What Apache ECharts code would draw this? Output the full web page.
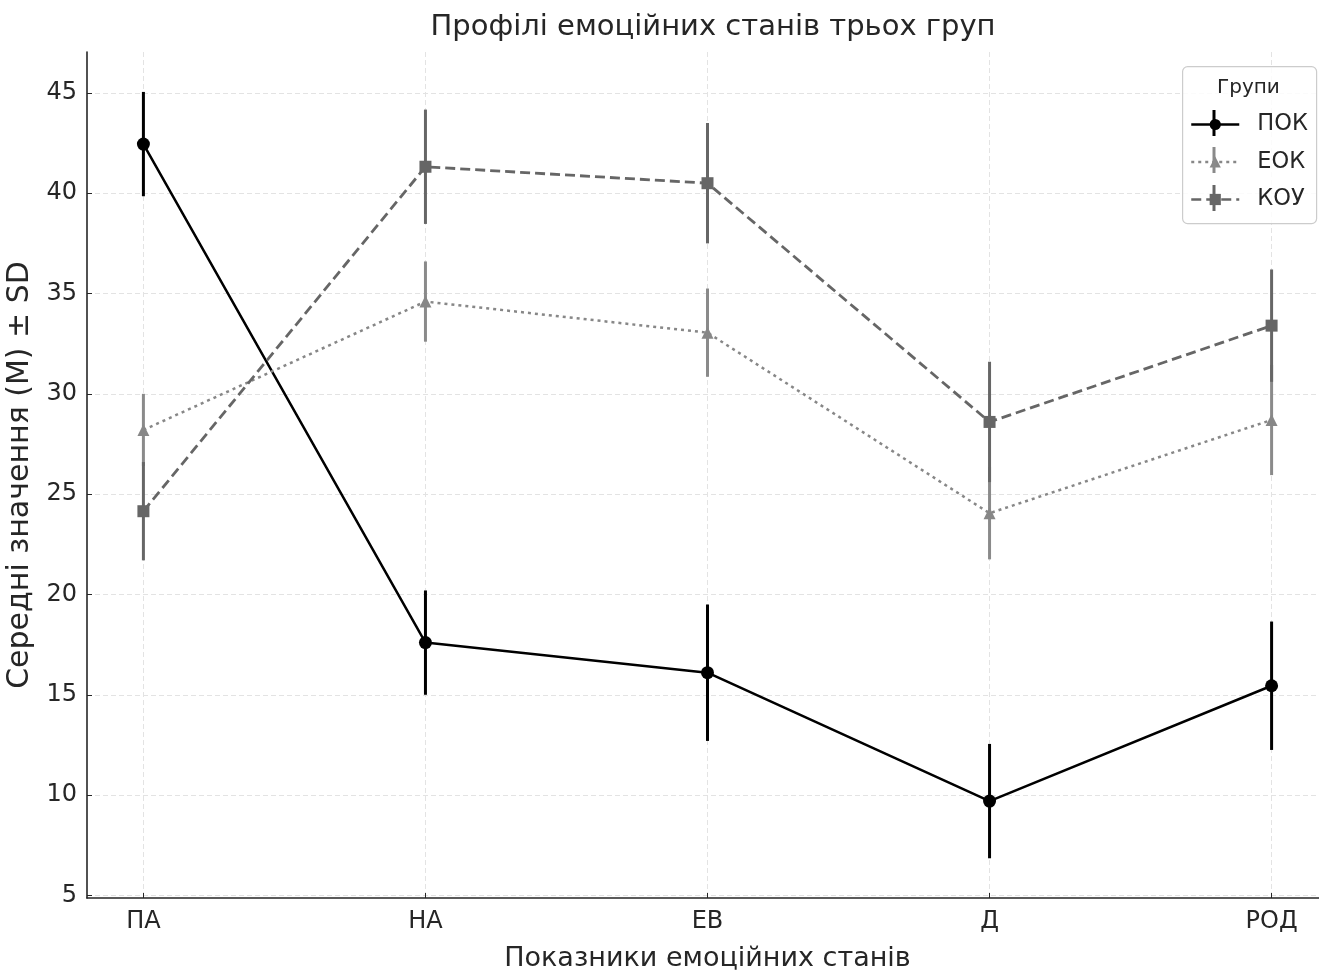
<!DOCTYPE html>
<html>
<head>
<meta charset="utf-8">
<script src="https://cdn.jsdelivr.net/npm/echarts@6/dist/echarts.min.js"></script>
<style>
html,body{margin:0;padding:0;background:#fff;}
#chart{width:1319px;height:971px;}
</style>
</head>
<body>
<div id="chart"></div>
<script>
const categories = ['ПА', 'НА', 'ЕВ', 'Д', 'РОД'];
const groupNames = ['ПОК', 'ЕОК', 'КОУ'];
const pokMean = [42.45, 17.6, 16.1, 9.7, 15.45];
const pokSD   = [2.6, 2.6, 3.4, 2.85, 3.2];
const eokMean = [28.2, 34.6, 33.05, 24.05, 28.7];
const eokSD   = [1.8, 2.0, 2.2, 2.3, 2.75];
const kouMean = [24.15, 41.32, 40.5, 28.6, 33.4];
const kouSD   = [2.45, 2.85, 3.0, 3.0, 2.8];
const yTicks = [5, 10, 15, 20, 25, 30, 35, 40, 45];

const FONT = 'DejaVu Sans';
const TXT = '#262626';
const groups = [
  {name: groupNames[0], mean: pokMean, sd: pokSD, color: '#000000', bar: '#000000', symbol: 'circle', size: 13, lineType: 'solid', width: 2.5},
  {name: groupNames[1], mean: eokMean, sd: eokSD, color: '#878787', bar: '#8a8a8a', symbol: 'triangle', size: 12, lineType: [3, 4], width: 2.5},
  {name: groupNames[2], mean: kouMean, sd: kouSD, color: '#666666', bar: '#666666', symbol: 'rect', size: 12, lineType: [10, 5], width: 2.8}
];

const series = [];
groups.forEach((g, gi) => {
  series.push({
    type: 'custom',
    name: g.name + '_err',
    z: 2 + gi * 2,
    silent: true,
    data: g.mean.map((m, i) => [i, m, g.sd[i]]),
    encode: {x: 0, y: 1},
    renderItem: function (params, api) {
      const x = api.value(0), y = api.value(1), s = api.value(2);
      const top = api.coord([x, y + s]);
      const bot = api.coord([x, y - s]);
      return {type: 'line', shape: {x1: top[0], y1: top[1], x2: bot[0], y2: bot[1]},
        style: {stroke: g.bar, lineWidth: 3}};
    }
  });
  series.push({
    type: 'line',
    name: g.name,
    z: 3 + gi * 2,
    data: g.mean.map((m, i) => [i, m]),
    symbol: g.symbol,
    symbolSize: g.size,
    showAllSymbol: true,
    itemStyle: {color: g.color},
    lineStyle: {color: g.color, width: g.width, type: g.lineType},
    animation: false
  });
});

// legend error-bar ticks (decoration of legend icons)
const legendRowsY = [123, 160, 198];
const legendBars = groups.map((g, i) => ({
  type: 'line', z: 25, silent: true,
  shape: {x1: 1214, y1: legendRowsY[i] - 13, x2: 1214, y2: legendRowsY[i] + 13},
  style: {stroke: g.bar, lineWidth: 3}
}));

const chart = echarts.init(document.getElementById('chart'));
chart.setOption({
  animation: false,
  backgroundColor: '#ffffff',
  title: {
    text: 'Профілі емоційних станів трьох груп',
    left: 708, top: 8, textAlign: 'center',
    textStyle: {fontFamily: FONT, fontSize: 29, fontWeight: 'normal', color: TXT}
  },
  grid: {left: 87, top: 52, width: 1241, height: 846, containLabel: false, outerBoundsMode: 'none'},
  xAxis: {
    type: 'value', min: -0.2, max: 4.2,
    name: 'Показники емоційних станів', nameLocation: 'middle', nameGap: 47,
    nameTextStyle: {fontFamily: FONT, fontSize: 27, color: TXT},
    axisLine: {show: true, onZero: false, lineStyle: {color: TXT, width: 1.6}},
    axisTick: {show: true, inside: true, length: 5, customValues: [0, 1, 2, 3, 4], lineStyle: {color: TXT}},
    axisLabel: {customValues: [0, 1, 2, 3, 4], formatter: v => categories[Math.round(v)] || '',
      fontFamily: FONT, fontSize: 24, color: TXT, margin: 12},
    splitLine: {show: true, lineStyle: {color: '#e3e3e3', type: [5, 3], width: 1}}
  },
  yAxis: {
    type: 'value', min: 4.87, max: 47.04,
    name: 'Середні значення (M) ± SD', nameLocation: 'middle', nameGap: 50,
    nameTextStyle: {fontFamily: FONT, fontSize: 30, color: TXT},
    axisLine: {show: true, onZero: false, lineStyle: {color: TXT, width: 1.6}},
    axisTick: {show: true, inside: true, length: 5, customValues: yTicks, lineStyle: {color: TXT}},
    axisLabel: {customValues: yTicks, fontFamily: FONT, fontSize: 24, color: TXT, margin: 10},
    splitLine: {show: true, lineStyle: {color: '#e3e3e3', type: [5, 3], width: 1}}
  },
  legend: {
    z: 20,
    data: groupNames,
    orient: 'vertical',
    left: 1190, top: 113, padding: 0,
    itemWidth: 48, itemHeight: 14, itemGap: 14.5,
    lineStyle: {width: 2.5},
    textStyle: {fontFamily: FONT, fontSize: 22.5, color: TXT, padding: [0, 0, 0, 13]}
  },
  graphic: [
    {type: 'rect', left: 1182, top: 66, z: 10, silent: true, shape: {width: 134, height: 157, r: 5},
      style: {fill: 'rgba(255,255,255,0.85)', stroke: '#cccccc', lineWidth: 1.2}},
    {type: 'text', left: 1217, top: 78, z: 11,
      style: {text: 'Групи', font: '20px "DejaVu Sans"', fill: TXT}}
  ].concat(legendBars),
  series: series
});
</script>
</body>
</html>
